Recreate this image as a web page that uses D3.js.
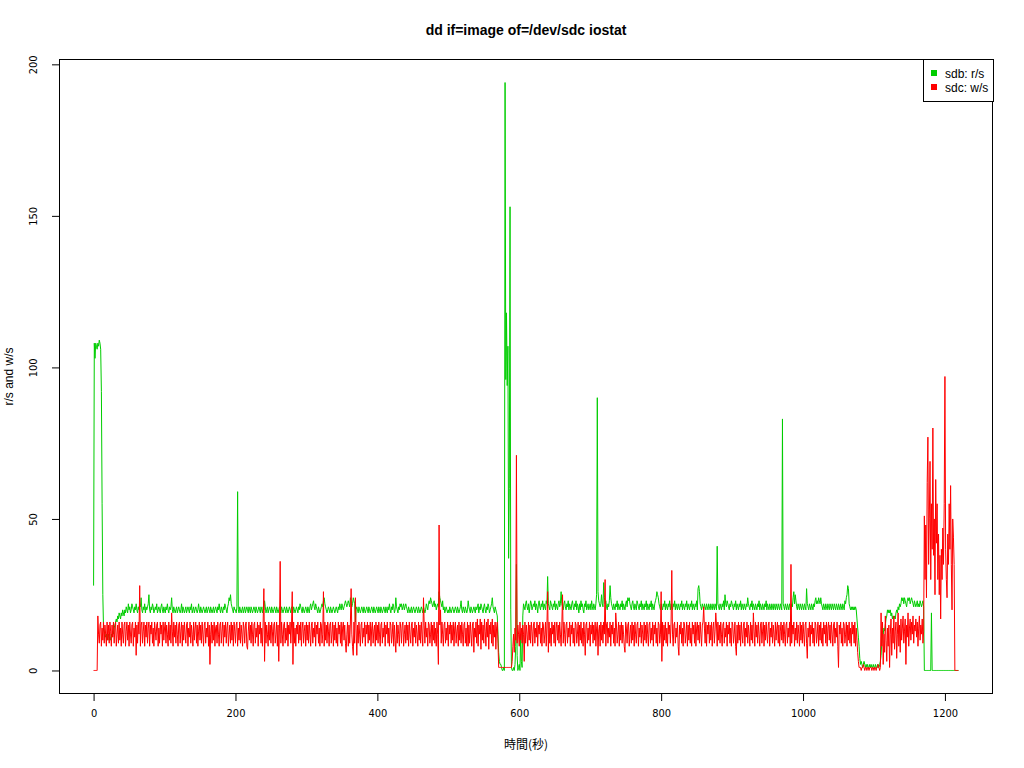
<!DOCTYPE html>
<html><head><meta charset="utf-8">
<script src="https://cdn.jsdelivr.net/npm/d3@7/dist/d3.min.js"></script>
<style>
html,body{margin:0;padding:0;background:#fff;}
svg{display:block;}
.tick text{font-family:"DejaVu Sans Condensed","DejaVu Sans",sans-serif;font-stretch:condensed;font-size:11px;fill:#000;}
</style></head><body>
<svg id="c" width="1024" height="768"></svg>
<script>
const title = "dd if=image of=/dev/sdc iostat";
const xLabel = "時間(秒)";
const yLabel = "r/s and w/s";
const seriesNames = ["sdb: r/s", "sdc: w/s"];
const xTicks = [0, 200, 400, 600, 800, 1000, 1200];
const yTicks = [0, 50, 100, 150, 200];

// sdb: r/s, one value per second
const readsPerSec = [
28,108,103,108,107,106,108,107,109,108,106,92,55,25,14,13,12,11,12,10,
11,12,10,11,10,12,11,13,12,14,15,16,17,16,18,17,19,18,17,19,
18,20,19,18,20,19,21,20,19,22,20,21,19,20,22,21,20,19,21,20,
22,20,19,21,20,22,21,24,20,19,21,20,22,19,21,20,21,22,25,20,
19,21,20,22,21,19,20,21,20,22,19,20,21,20,19,21,22,20,19,21,
20,19,21,20,22,20,19,21,20,21,24,20,19,21,20,19,20,21,19,20,
21,20,19,20,22,19,21,20,19,20,21,19,20,21,20,19,21,20,22,19,
20,21,19,20,21,20,19,20,22,20,19,21,20,19,20,21,20,19,20,21,
19,20,21,20,19,21,20,19,20,21,19,20,21,20,19,21,20,22,20,19,
21,20,19,21,20,22,21,20,19,21,22,24,23,25,22,21,20,19,21,20,
20,19,21,59,20,19,21,20,19,20,21,19,20,21,19,20,21,20,19,21,
20,19,21,20,19,20,21,20,19,21,20,19,20,21,20,19,21,20,19,21,
20,23,21,19,20,21,19,20,21,20,19,21,20,19,20,21,20,19,21,20,
19,20,21,20,19,21,20,19,20,21,20,19,21,20,19,20,21,20,19,21,
20,19,21,20,19,20,21,20,19,21,20,22,21,20,19,21,20,19,20,21,
20,19,21,20,19,21,22,20,21,22,23,21,20,22,21,20,19,21,20,19,
20,21,22,21,23,24,22,21,20,19,20,21,20,19,21,20,19,20,21,20,
19,20,21,20,19,21,20,22,21,20,22,21,20,21,22,23,22,21,22,23,
22,21,24,22,21,22,24,23,22,16,20,21,20,19,21,20,19,20,21,20,
19,21,20,19,20,21,20,19,21,20,19,20,21,20,19,21,20,19,20,21,
20,19,21,20,19,21,20,19,20,21,20,19,21,20,19,21,20,22,20,19,
21,20,22,21,19,20,24,21,20,19,21,20,22,21,22,20,21,22,20,21,
22,21,20,19,21,20,19,20,21,19,20,21,20,19,20,21,20,19,21,20,
19,20,21,20,19,21,20,19,20,22,21,20,22,23,22,24,23,22,21,22,
23,21,22,20,21,22,21,26,24,23,22,21,23,20,21,19,20,21,20,19,
20,19,21,20,19,20,21,20,19,20,21,20,19,21,20,19,20,21,23,20,
19,21,20,19,21,20,19,20,23,21,20,19,21,20,19,20,21,20,19,21,
20,21,22,19,21,20,22,21,20,19,21,22,20,19,21,20,22,21,19,20,
21,22,24,21,20,19,21,20,19,18,12,6,3,2,2,1,0,0,1,0,
194,96,118,94,107,37,60,153,20,1,0,0,1,0,2,8,35,5,0,1,
2,0,12,3,1,18,22,21,20,22,23,21,20,22,19,21,23,22,20,21,
22,21,23,20,22,21,19,22,23,21,20,22,21,23,20,22,21,20,23,22,
31,22,21,20,23,22,21,20,22,21,23,20,22,21,20,22,23,21,22,26,
22,21,20,22,23,21,20,22,21,23,20,22,21,20,22,23,21,20,22,21,
23,20,22,21,19,22,20,23,21,22,20,19,22,21,23,20,21,22,20,21,
22,20,23,21,20,22,21,20,22,25,90,26,23,22,21,22,25,22,21,29,
24,22,23,21,20,22,21,23,28,24,22,21,20,22,21,20,22,21,23,20,
22,21,20,22,21,23,20,22,21,20,22,23,21,24,23,24,22,21,20,22,
23,21,20,22,21,20,23,22,21,20,22,21,23,20,22,21,20,22,21,23,
20,22,21,20,22,21,23,20,22,21,20,22,23,24,26,25,24,22,21,20,
22,21,20,22,21,23,20,22,21,20,22,21,23,20,22,21,20,22,21,23,
20,22,21,20,22,21,20,22,21,23,20,22,21,20,22,21,23,20,22,21,
20,22,21,23,20,22,21,20,22,21,23,20,27,28,26,22,21,20,22,21,
20,22,21,20,22,21,20,22,21,20,22,21,20,22,21,20,22,21,20,41,
22,21,20,22,21,20,22,21,23,20,25,22,21,23,22,21,20,22,21,23,
22,21,20,22,21,23,20,22,21,20,22,21,23,20,22,21,20,22,21,20,
22,21,24,22,21,20,22,21,23,20,22,21,20,22,21,20,22,21,23,20,
22,21,20,22,21,20,22,21,23,20,22,21,20,22,21,20,22,21,20,22,
21,20,22,21,20,22,21,20,22,21,20,83,22,21,20,22,21,20,22,21,
20,22,21,20,22,21,24,26,22,25,23,21,20,22,21,20,22,21,20,22,
21,20,22,21,20,27,22,21,20,22,21,20,22,21,20,22,21,23,24,22,
23,22,24,23,22,24,22,21,20,22,21,20,22,21,20,22,21,20,22,21,
20,22,21,20,22,21,20,22,21,20,22,21,20,22,21,20,22,21,20,23,
22,24,25,28,27,22,21,20,21,20,21,20,21,20,21,20,17,14,11,8,
4,2,3,2,1,2,3,2,1,2,1,2,1,1,2,1,2,1,1,2,
1,1,2,1,1,2,1,1,2,3,5,9,13,12,14,13,15,17,18,20,
19,20,19,20,18,19,17,18,17,18,17,19,20,19,21,20,22,21,22,24,
23,24,22,24,23,22,21,23,24,23,24,22,23,24,23,22,21,23,22,21,
22,23,21,22,21,23,22,21,22,23,21,0,0,0,0,0,0,0,0,0,
0,19,0,0,0,0,0,0,0,0,0,0,0,0,0,0,0,0,0,0,
0,0,0,0,0,0,0,0,0,0,0,0,0,0,0,0,0,0,0,0
];

// sdc: w/s, one value per second
const writesPerSec = [
0,0,0,0,0,0,18,12,9,15,16,8,14,10,16,9,15,12,8,16,
10,15,9,16,13,8,15,11,16,9,14,16,8,12,15,9,16,10,14,8,
16,12,9,15,16,8,13,16,10,15,8,16,12,9,15,16,8,14,11,16,
5,15,9,16,12,28,8,15,16,9,13,16,8,15,11,16,9,14,16,8,
15,12,16,9,14,8,16,13,10,15,16,8,14,9,16,12,15,8,16,10,
14,16,9,15,12,8,16,10,15,9,19,13,8,16,11,15,9,16,12,8,
15,16,9,13,16,8,15,10,16,12,9,15,16,8,14,11,16,9,15,12,
8,16,10,14,16,9,15,8,13,16,10,15,9,16,12,8,15,16,9,14,
11,16,8,15,2,12,16,9,15,10,16,8,14,15,9,16,12,8,15,16,
9,13,16,8,15,11,16,9,14,16,8,12,15,9,16,10,15,8,16,13,
9,15,16,8,14,10,16,9,15,12,8,16,14,9,15,16,8,7,13,16,
10,15,9,16,12,8,15,16,9,14,11,16,8,15,12,16,9,14,8,16,
27,3,16,9,15,12,8,16,10,15,9,16,13,8,15,16,9,12,16,8,
15,3,14,36,9,16,12,8,15,16,9,14,10,16,8,15,12,16,9,15,
26,2,16,9,14,8,15,12,16,9,15,10,16,8,14,16,9,13,15,8,
16,10,15,9,16,12,8,15,16,9,14,11,16,8,15,12,16,9,14,8,
16,15,9,12,26,8,16,10,15,9,16,13,8,15,16,9,12,16,8,15,
10,16,9,14,8,16,12,15,9,16,8,14,16,10,15,9,6,12,16,8,
15,9,16,27,12,8,5,16,9,24,14,5,15,9,16,12,8,15,16,9,
14,11,16,8,15,12,16,9,15,10,16,8,14,16,9,13,15,8,16,10,
15,9,16,12,8,15,16,9,14,11,16,8,15,12,16,9,14,8,16,15,
9,12,16,8,15,10,6,16,9,15,12,8,16,14,9,15,16,8,12,15,
9,16,10,15,8,16,12,9,15,16,8,14,11,16,9,15,12,8,16,10,
15,9,16,12,8,24,15,9,16,11,14,8,16,15,9,12,16,8,15,10,
16,9,14,8,16,12,2,48,15,20,9,16,12,8,15,16,9,14,10,16,
8,15,12,16,9,15,10,16,8,14,16,9,13,15,8,16,10,15,9,16,
12,8,15,16,9,14,8,16,8,15,9,16,12,8,15,16,6,14,11,16,
9,17,8,15,12,17,7,16,10,15,9,17,13,8,16,11,17,7,15,12,
16,9,17,8,15,11,16,7,14,16,9,1,1,1,1,1,1,1,1,1,
1,1,1,1,1,1,1,1,1,1,3,8,12,6,14,10,71,9,15,12,
8,16,10,14,9,15,12,3,16,9,15,12,8,16,10,15,9,16,13,8,
15,16,9,14,11,16,8,15,12,16,9,14,8,16,15,9,12,16,8,15,
26,6,16,9,14,8,16,12,15,9,16,8,14,16,10,15,9,16,12,8,
15,25,9,16,12,8,15,16,9,14,11,16,8,15,12,16,9,14,8,16,
15,9,12,16,8,15,10,16,9,14,8,16,12,5,15,16,9,14,10,16,
8,15,12,16,9,15,10,16,8,14,16,5,13,15,8,16,10,15,9,16,
12,30,8,15,16,9,14,11,16,8,15,12,16,9,14,8,19,15,9,12,
16,8,15,10,16,9,15,12,8,6,16,14,9,15,16,8,12,15,9,16,
10,15,8,16,12,9,15,16,8,14,11,16,9,15,12,8,16,10,15,9,
16,12,8,15,16,9,14,10,16,8,15,12,16,9,14,8,16,15,9,12,
26,3,16,8,15,10,16,9,14,8,16,12,15,9,16,33,12,8,15,16,
9,14,11,16,8,5,15,12,16,9,14,8,16,15,9,12,16,8,15,10,
16,9,14,8,16,12,15,9,16,8,14,16,10,15,9,16,12,8,15,16,
21,14,9,16,8,15,12,16,9,15,10,16,8,14,16,9,13,19,15,8,
16,10,15,9,16,12,8,15,16,9,14,11,16,8,15,12,16,9,14,8,
16,15,9,12,16,8,5,15,9,16,10,15,8,16,12,9,15,16,8,14,
11,16,9,15,12,8,16,10,15,9,19,13,8,16,11,15,9,16,12,8,
15,16,9,13,16,8,15,10,16,12,9,15,16,8,14,11,16,9,15,12,
8,16,10,14,16,9,15,8,13,16,10,15,9,16,12,8,15,16,9,14,
11,16,8,35,9,15,12,16,8,14,10,16,9,15,12,8,16,10,15,9,
16,12,8,15,16,9,4,14,11,16,8,15,12,16,9,14,8,16,15,9,
12,16,8,15,10,16,9,14,8,16,12,15,9,16,8,14,16,10,15,9,
16,12,8,15,16,9,14,11,16,8,1,15,12,16,9,14,8,16,15,9,
12,16,8,15,10,16,9,14,8,16,12,15,9,16,8,14,10,6,3,1,
1,1,0,1,1,2,1,0,1,1,0,1,1,0,1,1,1,0,1,1,
0,1,1,0,1,1,2,1,0,1,19,8,16,2,12,6,18,10,3,14,
8,15,1,12,17,5,14,9,18,7,13,16,4,12,19,8,15,6,17,10,
14,18,9,13,17,2,15,11,19,8,14,17,10,16,12,18,9,15,13,17,
11,16,8,14,18,10,15,12,17,9,13,51,30,48,24,62,77,35,50,69,
30,55,40,80,38,50,25,63,42,55,30,45,25,38,17,40,30,47,35,55,
97,40,30,24,45,35,55,40,61,35,20,50,44,35,0,0,0,0,0,0
];

const colors = ["#00CD00", "#FF0000"];

const svg = d3.select("#c");
const L = 59, R = 993, T = 59, B = 694;
const n = readsPerSec.length;
const xPad = (n - 1) * 0.04;
const yMax = d3.max([d3.max(readsPerSec), d3.max(writesPerSec)]);
const yPad = yMax * 0.04;
const x = d3.scaleLinear().domain([-xPad, n - 1 + xPad]).range([L, R]);
const y = d3.scaleLinear().domain([-yPad, yMax + yPad]).range([B, T]);

const line = d3.line().x((d, i) => x(i)).y(d => y(d));
[readsPerSec, writesPerSec].forEach((s, k) => {
  svg.append("path").datum(s).attr("d", line)
    .attr("fill", "none").attr("stroke", colors[k]).attr("stroke-width", 1);
});

svg.append("rect").attr("x", L + 0.5).attr("y", T + 0.5)
  .attr("width", R - L - 1).attr("height", B - T - 1)
  .attr("fill", "none").attr("stroke", "#000").attr("stroke-width", 1);

const xa = svg.append("g").attr("transform", `translate(0,${B})`)
  .call(d3.axisBottom(x).tickValues(xTicks).tickSize(7).tickSizeOuter(0).tickFormat(d3.format("d")));
xa.select(".domain").remove();
xa.selectAll(".tick text").attr("y", 15);

const ya = svg.append("g").attr("transform", `translate(${L},0)`)
  .call(d3.axisLeft(y).tickValues(yTicks).tickSize(7).tickSizeOuter(0).tickFormat(d3.format("d")));
ya.select(".domain").remove();
ya.selectAll(".tick text").attr("x", null).attr("dy", null)
  .attr("transform", "translate(-18,0) rotate(-90)")
  .attr("text-anchor", "middle").attr("y", -4);

svg.append("text").attr("x", 526).attr("y", 35).attr("text-anchor", "middle")
  .style("font-family", "'Liberation Sans', Arial, sans-serif").style("font-weight", "bold")
  .style("font-size", "14px").text(title);

svg.append("text").attr("x", 526).attr("y", 749).attr("text-anchor", "middle")
  .style("font-family", "'Noto Sans CJK JP', sans-serif").style("font-size", "12px").text(xLabel);

svg.append("text").attr("transform", `translate(13,${(T + B) / 2}) rotate(-90)`).attr("text-anchor", "middle")
  .style("font-family", "'Liberation Sans', Arial, sans-serif").style("font-size", "12px").text(yLabel);

// legend
const lg = svg.append("g");
lg.append("rect").attr("x", 923.5).attr("y", 59.5).attr("width", 70).attr("height", 42)
  .attr("fill", "#fff").attr("stroke", "#000");
seriesNames.forEach((name, k) => {
  lg.append("rect").attr("x", 931).attr("y", 70 + k * 14).attr("width", 6).attr("height", 6).attr("fill", colors[k]);
  lg.append("text").attr("x", 945).attr("y", 78 + k * 14)
    .style("font-family", "'Liberation Sans', Arial, sans-serif").style("font-size", "12px").text(name);
});
</script>
</body></html>
